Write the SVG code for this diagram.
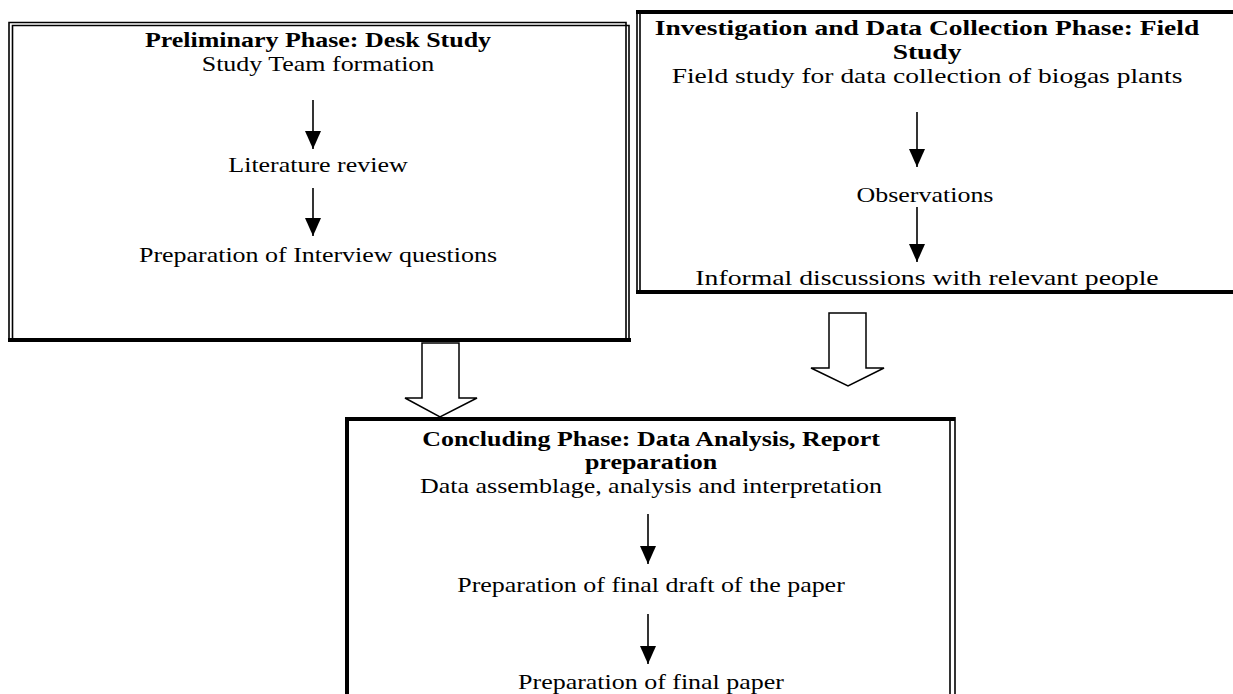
<svg xmlns="http://www.w3.org/2000/svg" width="1233" height="694" viewBox="0 0 1233 694">
<style>
text{font-family:"Liberation Serif","Times New Roman",serif;font-size:22px;fill:#000;text-anchor:middle}
.b{font-weight:bold}
.thin{fill:none;stroke:#000;stroke-width:1.6}
.thick{fill:none;stroke:#000;stroke-width:4}
.sa{stroke:#000;stroke-width:1.6;fill:none}
.hollow{fill:#fff;stroke:#000;stroke-width:1.5}
</style>
<defs>
<marker id="ah" viewBox="0 0 18 16" refX="18" refY="8" markerWidth="18" markerHeight="16" markerUnits="userSpaceOnUse" orient="auto">
<path d="M0,0 L18,8 L0,16 Z" fill="#000"/>
</marker>
</defs>
<rect width="1233" height="694" fill="#fff"/>
<g id="node-preliminary">
<path class="thin" d="M9,342 V22.5 H626 V342"/>
<path class="thin" d="M12.5,340 V25.5 H629 V340"/>
<line class="thick" x1="8" y1="340" x2="631" y2="340"/>
<text class="b" transform="translate(318 47) scale(1.18 1)">Preliminary Phase: Desk Study</text>
<text transform="translate(318 71) scale(1.18 1)">Study Team formation</text>
<text transform="translate(318 172) scale(1.18 1)">Literature review</text>
<text transform="translate(318 262) scale(1.18 1)">Preparation of Interview questions</text>
</g>
<g id="node-investigation">
<path class="thin" d="M637,294 V12"/>
<path class="thin" d="M640,292 V14"/>
<line class="thick" x1="636" y1="12" x2="1240" y2="12"/>
<line class="thick" x1="636" y1="292" x2="1240" y2="292"/>
<text class="b" transform="translate(927 35) scale(1.25 1)">Investigation and Data Collection Phase: Field</text>
<text class="b" transform="translate(927 59) scale(1.25 1)">Study</text>
<text transform="translate(927 83) scale(1.25 1)">Field study for data collection of biogas plants</text>
<text transform="translate(925 202) scale(1.18 1)">Observations</text>
<text transform="translate(927 285) scale(1.26 1)">Informal discussions with relevant people</text>
</g>
<g id="node-concluding">
<path class="thick" d="M347,700 V419 H955"/>
<path class="thin" d="M950,419 V700"/>
<path class="thin" d="M955,417 V700"/>
<text class="b" transform="translate(651 446) scale(1.18 1)">Concluding Phase: Data Analysis, Report</text>
<text class="b" transform="translate(651 469) scale(1.18 1)">preparation</text>
<text transform="translate(651 493) scale(1.18 1)">Data assemblage, analysis and interpretation</text>
<text transform="translate(651 592) scale(1.18 1)">Preparation of final draft of the paper</text>
<text transform="translate(651 689) scale(1.18 1)">Preparation of final paper</text>
</g>
<g id="connectors">
<line class="sa" x1="313" y1="100" x2="313" y2="149" marker-end="url(#ah)"/>
<line class="sa" x1="313" y1="188" x2="313" y2="236" marker-end="url(#ah)"/>
<line class="sa" x1="917" y1="112" x2="917" y2="167" marker-end="url(#ah)"/>
<line class="sa" x1="917" y1="207" x2="917" y2="262" marker-end="url(#ah)"/>
<line class="sa" x1="648" y1="514" x2="648" y2="564" marker-end="url(#ah)"/>
<line class="sa" x1="648" y1="614" x2="648" y2="664" marker-end="url(#ah)"/>
<path class="hollow" d="M422,343 H459 V398 H477 L440,417 L405,398 H422 Z"/>
<path class="hollow" d="M829,313 H866 V368 H884 L848,386 L811,368 H829 Z"/>
</g>
</svg>
